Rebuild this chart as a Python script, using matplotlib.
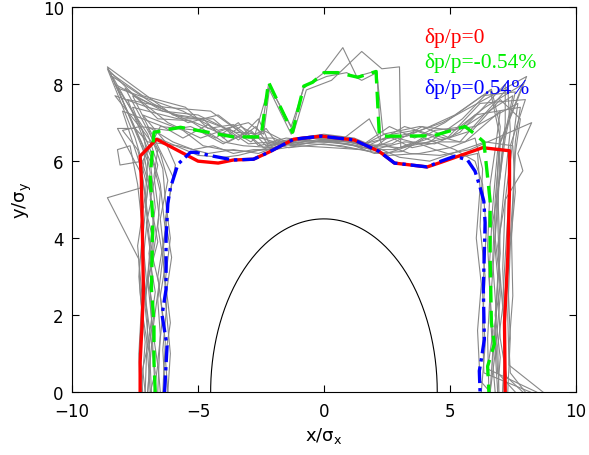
import numpy as np
import matplotlib
matplotlib.use("Agg")
import matplotlib.pyplot as plt

# dynamic aperture, dp/p = 0
red_x = [-7.3, -7.3, -7.22, -7.17, -7.22, -7.25, -7.3, -6.65, -5.0, -4.2, -3.6, -2.8, -2.2, -1.2,
         -0.1, 1.2, 2.2, 2.8, 4.1, 4.65, 6.3, 7.37, 7.37, 7.3, 7.17, 7.2]
red_y = [0.0, 0.78, 1.8, 2.67, 4.5, 5.5, 6.13, 6.57, 6.0, 5.95, 6.03, 6.05, 6.23, 6.57,
         6.65, 6.55, 6.25, 5.95, 5.85, 5.97, 6.35, 6.27, 5.3, 3.5, 1.8, 0.0]

# dp/p = -0.54%
green_x = [-6.7, -6.75, -6.75, -6.85, -6.8, -6.9, -6.75, -5.7, -4.6, -3.6, -2.5, -2.2, -1.25, -0.8,
           -0.45, 0.0, 0.55, 1.35, 2.07, 2.2, 3.05, 4.35, 5.6, 6.0, 6.35, 6.4, 6.6, 6.6, 6.65,
           6.77, 6.5, 6.55]
green_y = [0.0, 0.78, 1.8, 2.67, 4.5, 5.6, 6.75, 6.88, 6.75, 6.63, 6.63, 8.05, 6.75, 7.95,
           8.05, 8.3, 8.3, 8.18, 8.33, 6.65, 6.65, 6.66, 6.9, 6.7, 6.5, 6.2, 4.96, 3.5, 1.8,
           1.25, 0.67, 0.0]

# dp/p = +0.54%
blue_x = [-6.33, -6.23, -6.43, -6.27, -6.27, -6.2, -6.1, -5.8, -5.3, -5.1, -4.4, -3.6, -2.8, -2.2,
          -1.2, -0.1, 1.2, 2.2, 2.8, 4.1, 4.65, 5.2, 5.7, 6.0, 6.2, 6.35, 6.4, 6.33, 6.37, 6.25,
          6.17, 6.2]
blue_y = [0.0, 1.2, 2.0, 2.67, 4.0, 4.9, 5.3, 5.92, 6.23, 6.23, 6.13, 6.03, 6.05, 6.23,
          6.57, 6.65, 6.55, 6.25, 5.95, 5.85, 6.0, 6.13, 6.03, 5.74, 5.32, 4.96, 4.4, 2.67,
          1.37, 0.85, 0.55, 0.0]

# individual seeds (grey)
run01 = [(-6.7, 0), (-6.8, 1.2), (-6.9, 2.7), (-6.75, 4.2), (-6.95, 5.4), (-7.2, 6.4), (-8.6, 8.45),
         (-6.0, 7.2), (-4.7, 7.05), (-3.5, 6.75), (-2.5, 6.7), (-2.2, 8.0), (-1.3, 6.9), (-0.8, 7.9),
         (0.0, 8.3), (0.75, 8.95), (1.3, 8.2), (2.1, 8.35), (2.25, 6.55), (3.6, 6.75), (4.7, 7.0),
         (8.05, 8.2), (6.9, 6.3), (6.7, 4.8), (6.55, 3.0), (6.7, 1.5), (6.5, 0.6), (8.45, 0)]
run02 = [(-7.0, 0), (-6.9, 0.9), (-7.1, 2.2), (-6.9, 3.8), (-7.1, 5.0), (-7.0, 6.0), (-8.2, 7.9),
         (-5.6, 7.3), (-4.2, 6.8), (-3.0, 7.0), (-2.4, 6.7), (-2.15, 7.95), (-1.2, 6.75), (-0.7, 7.85),
         (0.3, 8.1), (1.5, 8.85), (2.3, 8.4), (3.0, 8.45), (3.05, 6.35), (4.2, 6.5), (5.5, 7.1),
         (6.6, 7.85), (7.0, 6.6), (6.9, 4.5), (7.0, 2.5), (6.8, 1.0), (6.6, 0)]
run03 = [(-7.25, 0), (-7.1, 1.3), (-7.3, 2.6), (-7.35, 3.45), (-8.6, 5.05), (-7.3, 5.3), (-7.1, 6.2),
         (-6.6, 6.6), (-5.0, 6.15), (-4.0, 6.1), (-3.4, 6.15), (-2.2, 6.35), (-1.1, 6.6), (0.0, 6.7),
         (1.2, 6.6), (2.3, 6.3), (3.0, 6.1), (4.2, 6.0), (5.3, 6.25), (6.4, 6.5), (7.5, 6.4),
         (7.6, 5.2), (7.4, 3.8), (7.3, 2.0), (7.35, 0.7), (8.7, 0)]
run04 = [(-7.1, 0), (-7.0, 1.8), (-7.2, 3.3), (-7.0, 4.6), (-7.2, 5.6), (-8.2, 6.85), (-7.5, 6.85),
         (-7.0, 6.5), (-5.8, 6.4), (-4.6, 6.2), (-3.6, 6.3), (-2.6, 6.2), (-1.6, 6.45), (-0.5, 6.6),
         (0.6, 6.5), (1.8, 7.1), (2.3, 6.45), (3.4, 6.2), (4.6, 6.15), (5.8, 6.3), (8.25, 7.0),
         (7.7, 6.2), (7.9, 5.75), (7.2, 5.0), (7.1, 3.2), (7.2, 1.6), (7.1, 0)]
run05 = [(-6.3, 0), (-6.4, 1.1), (-6.25, 2.2), (-6.4, 3.6), (-6.2, 4.8), (-6.0, 5.6), (-6.6, 6.4),
         (-7.6, 7.7), (-5.2, 7.0), (-4.0, 6.5), (-3.2, 6.4), (-2.0, 6.35), (-1.0, 6.5), (0.2, 6.5),
         (1.2, 6.4), (2.0, 6.2), (3.1, 6.25), (4.0, 6.6), (5.2, 6.3), (6.0, 6.0), (6.3, 5.4),
         (6.45, 4.2), (6.3, 2.6), (6.4, 1.2), (6.25, 0)]
run06 = [(-6.6, 0), (-6.5, 1.5), (-6.6, 2.4), (-6.4, 3.5), (-6.6, 4.3), (-6.5, 5.2), (-6.8, 6.0),
         (-7.8, 7.6), (-6.3, 7.4), (-4.5, 7.3), (-3.0, 6.6), (-2.0, 6.6), (-1.3, 6.4), (-0.4, 6.6),
         (0.8, 6.5), (1.6, 6.45), (2.6, 6.9), (3.6, 6.6), (4.8, 7.0), (6.65, 7.87), (7.0, 6.9),
         (6.9, 5.8), (6.8, 4.0), (6.6, 2.2), (6.7, 1.0), (6.6, 0)]
run07 = [(-6.9, 0), (-7.0, 1.0), (-6.75, 2.0), (-7.0, 3.0), (-6.8, 4.0), (-7.1, 4.8), (-6.9, 5.7),
         (-7.2, 6.8), (-8.4, 8.2), (-6.8, 7.5), (-5.4, 7.0), (-4.2, 7.2), (-3.2, 6.7), (-2.6, 7.1),
         (-2.2, 6.5), (-1.4, 6.35), (0.0, 6.45), (1.4, 6.3), (2.4, 6.6), (3.2, 6.9), (4.2, 6.7),
         (5.4, 6.5), (7.3, 7.9), (7.4, 6.8), (7.2, 5.6), (7.0, 4.2), (6.9, 2.8), (7.0, 1.4),
         (7.25, 0.4), (7.9, 0)]
run08 = [(-6.2, 0), (-6.3, 0.9), (-6.1, 1.8), (-6.3, 2.9), (-6.1, 4.0), (-6.3, 5.0), (-6.4, 5.8),
         (-7.0, 6.9), (-6.0, 6.5), (-5.2, 6.3), (-4.4, 6.4), (-3.6, 6.2), (-2.8, 6.3), (-2.0, 6.3),
         (-1.0, 6.4), (0.3, 6.35), (1.5, 6.3), (2.6, 6.15), (3.8, 6.2), (5.0, 6.35), (6.0, 6.6),
         (6.3, 5.8), (6.2, 4.3), (6.4, 3.0), (6.3, 1.8), (6.35, 0.5), (8.2, 0)]
run09 = [(-7.2, 0), (-7.3, 1.0), (-7.2, 2.3), (-7.4, 3.8), (-7.1, 5.1), (-7.3, 5.9), (-8.0, 7.3),
         (-6.4, 6.9), (-5.6, 6.6), (-4.6, 6.95), (-3.8, 6.5), (-2.9, 6.8), (-2.3, 6.4), (-1.7, 6.5),
         (-0.6, 6.6), (0.6, 6.55), (1.7, 6.4), (2.7, 6.45), (3.9, 6.9), (5.0, 6.6), (6.0, 7.2),
         (7.8, 7.4), (7.6, 6.5), (7.5, 5.0), (7.3, 3.0), (7.4, 1.4), (7.3, 0)]
run10 = [(-6.5, 0), (-6.6, 0.8), (-6.4, 2.0), (-6.6, 3.0), (-6.3, 4.2), (-6.5, 5.4), (-6.9, 6.3),
         (-7.6, 7.4), (-5.8, 7.1), (-4.4, 7.1), (-3.4, 6.55), (-2.7, 6.9), (-2.2, 6.4), (-1.0, 6.55),
         (0.4, 6.5), (1.6, 6.35), (2.5, 6.2), (3.4, 6.4), (4.4, 6.8), (5.6, 6.9), (7.5, 7.7),
         (7.1, 6.4), (6.9, 5.2), (7.0, 3.6), (6.8, 2.0), (7.0, 0.9), (6.9, 0)]
run11 = [(-7.0, 0), (-6.8, 1.6), (-7.0, 2.9), (-6.6, 3.9), (-6.9, 5.0), (-6.6, 5.9), (-7.0, 6.7),
         (-8.3, 8.0), (-6.4, 7.3), (-5.0, 7.2), (-3.9, 6.85), (-3.0, 6.45), (-2.1, 6.5), (-1.5, 6.6),
         (-0.2, 6.5), (1.0, 6.45), (2.0, 6.3), (3.2, 6.5), (4.4, 6.45), (5.4, 6.75), (7.2, 8.0),
         (7.2, 7.0), (7.0, 5.6), (6.7, 4.4), (6.9, 3.0), (6.8, 1.6), (6.9, 0.5), (7.6, 0)]
run12 = [(-6.4, 0), (-6.3, 1.3), (-6.5, 2.5), (-6.3, 3.3), (-6.5, 4.5), (-6.2, 5.5), (-6.5, 6.2),
         (-7.9, 7.9), (-6.2, 7.0), (-4.9, 6.6), (-3.8, 6.85), (-2.9, 6.5), (-2.3, 6.85), (-1.8, 6.4),
         (-0.8, 6.45), (0.5, 6.6), (1.5, 6.4), (2.4, 6.7), (3.5, 6.35), (4.6, 6.5), (5.6, 6.5),
         (7.0, 7.3), (6.8, 6.3), (6.6, 5.4), (6.5, 3.8), (6.6, 2.6), (6.5, 1.4), (6.55, 0)]
run13 = [(-7.1, 0), (-7.2, 0.6), (-7.0, 1.2), (-7.2, 2.0), (-7.05, 2.9), (-7.2, 4.0), (-7.0, 5.3),
         (-7.4, 6.3), (-8.0, 6.8), (-7.3, 6.9), (-6.2, 6.8), (-5.3, 6.9), (-4.3, 6.6), (-3.4, 7.0),
         (-2.6, 6.4), (-1.9, 6.5), (-1.0, 6.6), (0.2, 6.6), (1.1, 6.5), (2.0, 6.35), (2.9, 6.6),
         (3.8, 6.45), (4.9, 6.6), (6.2, 7.5), (8.0, 7.6), (7.4, 6.4), (7.3, 4.6), (7.1, 2.4),
         (7.2, 1.0), (7.1, 0)]
run14 = [(-6.85, 0), (-6.95, 1.4), (-6.7, 2.6), (-6.95, 3.6), (-6.7, 4.8), (-6.9, 6.0), (-8.5, 8.3),
         (-7.2, 7.7), (-5.5, 7.4), (-4.6, 6.85), (-3.6, 6.95), (-2.8, 6.55), (-2.2, 7.9), (-1.3, 6.7),
         (-0.8, 7.95), (0.1, 8.2), (0.9, 8.3), (1.5, 8.1), (2.1, 8.3), (2.35, 6.7), (3.8, 6.9),
         (5.2, 6.8), (6.4, 7.4), (7.9, 8.0), (7.0, 6.5), (6.8, 5.0), (6.7, 3.4), (6.85, 2.0),
         (6.7, 0.8), (6.8, 0)]
run15 = [(-6.2, 0), (-6.1, 1.0), (-6.3, 2.4), (-6.05, 3.5), (-6.3, 4.5), (-6.1, 5.2), (-5.9, 5.9),
         (-6.3, 6.5), (-7.2, 7.2), (-5.6, 6.8), (-4.8, 6.4), (-4.0, 6.3), (-3.0, 6.25), (-2.3, 6.3),
         (-1.4, 6.45), (-0.3, 6.55), (0.9, 6.45), (1.9, 6.3), (2.8, 6.3), (3.6, 6.5), (4.4, 6.3),
         (5.4, 6.1), (6.1, 6.2), (6.2, 5.3), (6.05, 4.0), (6.25, 2.8), (6.1, 1.6), (6.2, 0.3), (6.6, 0)]
run16 = [(-7.3, 0), (-7.35, 1.0), (-7.25, 2.2), (-7.35, 3.0), (-7.2, 4.2), (-7.4, 5.4), (-7.7, 6.4),
         (-8.2, 6.3), (-8.1, 5.9), (-7.2, 6.0), (-6.5, 6.9), (-5.0, 6.8), (-4.0, 6.45), (-3.1, 6.75),
         (-2.4, 6.35), (-1.6, 6.5), (-0.5, 6.45), (0.7, 6.4), (1.8, 6.25), (2.7, 6.7), (3.6, 6.8),
         (4.7, 6.55), (5.9, 6.8), (7.0, 7.6), (7.8, 7.1), (7.6, 6.2), (7.45, 4.0), (7.5, 2.5),
         (7.35, 1.2), (7.4, 0.5), (8.0, 0)]
run17 = [(-6.75, 0), (-6.6, 0.7), (-6.8, 1.6), (-6.55, 2.8), (-6.8, 3.5), (-6.55, 4.6), (-6.75, 5.6),
         (-6.6, 6.3), (-8.3, 7.7), (-7.0, 7.4), (-5.8, 7.2), (-4.8, 7.1), (-4.0, 6.6), (-3.3, 6.9),
         (-2.5, 6.6), (-1.7, 6.45), (-0.6, 6.6), (0.5, 6.55), (1.6, 6.45), (2.5, 6.6), (3.3, 6.65),
         (4.2, 6.9), (5.2, 7.2), (6.3, 7.7), (7.6, 7.8), (7.2, 6.6), (6.95, 5.4), (6.8, 4.0),
         (7.0, 2.8), (6.75, 1.6), (6.9, 0)]
run18 = [(-6.9, 0), (-6.7, 0.5), (-6.9, 1.5), (-7.1, 2.5), (-6.85, 3.4), (-7.05, 4.4), (-6.85, 5.0),
         (-7.0, 5.5), (-7.5, 6.6), (-8.6, 8.4), (-6.6, 7.1), (-5.3, 7.05), (-4.2, 6.75), (-3.1, 6.6),
         (-2.4, 6.8), (-1.2, 6.4), (0.0, 6.55), (1.3, 6.5), (2.1, 6.4), (3.0, 6.35), (4.0, 6.55),
         (4.9, 6.8), (6.0, 6.9), (7.7, 7.5), (7.4, 6.0), (7.2, 5.0), (6.9, 3.8), (7.1, 2.2),
         (6.9, 1.2), (6.95, 0)]
runs = [run01, run02, run03, run04, run05, run06, run07, run08, run09,
        run10, run11, run12, run13, run14, run15, run16, run17, run18]

aperture_r = 4.5

fig = plt.figure(figsize=(5.89, 4.56), dpi=100)
ax = fig.add_axes([0.1225, 0.138, 0.855, 0.844])

for run in runs:
    xs, ys = zip(*run)
    ax.plot(xs, ys, color='#888888', lw=0.8, zorder=1)

t = np.linspace(0, np.pi, 200)
ax.plot(aperture_r * np.cos(t), aperture_r * np.sin(t), color='black', lw=0.8, zorder=2)

ax.plot(red_x, red_y, color='red', lw=2.4, zorder=3)
ax.plot(green_x, green_y, color='#00ee00', lw=2.4, dashes=(5, 2.5), zorder=4)
ax.plot(blue_x, blue_y, color='blue', lw=2.4, dashes=(5, 1.5, 1, 1.5), zorder=5)

legend_font = dict(family='Liberation Serif', fontsize=15.5, va='center')
ax.text(4.0, 9.22, 'δp/p=0', color='red', **legend_font)
ax.text(4.0, 8.57, 'δp/p=-0.54%', color='#00ee00', **legend_font)
ax.text(4.0, 7.9, 'δp/p=0.54%', color='blue', **legend_font)

ax.set_xlim(-10, 10)
ax.set_ylim(0, 10)
ax.set_xticks([-10, -5, 0, 5, 10])
ax.set_yticks([0, 2, 4, 6, 8, 10])
ax.tick_params(direction='in', top=True, right=True, length=5, labelsize=12)
ax.tick_params(axis='x', pad=7)
ax.tick_params(axis='y', pad=6)
ax.set_xlabel('x/σ$_{\\mathrm{x}}$', fontsize=13, labelpad=4)
ax.set_ylabel('y/σ$_{\\mathrm{y}}$', fontsize=13, labelpad=6)

fig.savefig('out.png', dpi=100)
